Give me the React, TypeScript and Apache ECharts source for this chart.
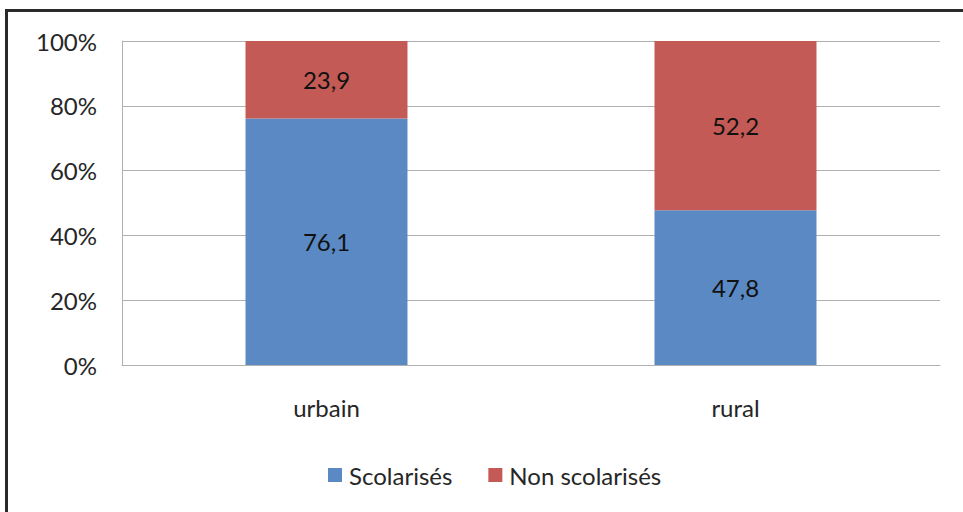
import React, { useEffect, useRef } from "react";
import * as echarts from "echarts";

const categories = ["urbain", "rural"];
const scolarises = [76.1, 47.8];
const nonScolarises = [23.9, 52.2];
const seriesNames = ["Scolarisés", "Non scolarisés"];

const FONT = "Lato";
const FS = 24;

export default function App() {
  const ref = useRef<HTMLDivElement>(null);
  useEffect(() => {
    const chart = echarts.init(ref.current!, null, { renderer: "svg" });
    const fmt = (p: any) => String(p.value).replace(".", ",");
    chart.setOption({
      animation: false,
      backgroundColor: "#ffffff",
      textStyle: { fontFamily: FONT },
      graphic: [
        {
          type: "rect",
          shape: { x: 6.5, y: 10.5, width: 1000, height: 600 },
          style: { fill: "none", stroke: "#2a2a2a", lineWidth: 3 },
          silent: true,
        },
      ],
      grid: { left: 122, top: 41, right: 23, bottom: 147 },
      legend: {
        data: seriesNames,
        bottom: 20,
        left: 323,
        padding: 5,
        icon: "rect",
        itemWidth: 14,
        itemHeight: 14,
        itemGap: 36,
        textStyle: { fontFamily: FONT, fontSize: FS, color: "#262626", padding: [0, 0, 0, 2] },
      },
      xAxis: {
        type: "category",
        data: categories,
        axisLine: { lineStyle: { color: "#b0b0b0", width: 1 } },
        axisTick: { show: false },
        axisLabel: { fontFamily: FONT, fontSize: FS, color: "#262626", margin: 30 },
      },
      yAxis: {
        type: "value",
        min: 0,
        max: 100,
        interval: 20,
        axisLine: { show: true, lineStyle: { color: "#b0b0b0", width: 1 } },
        axisTick: { show: false },
        splitLine: { lineStyle: { color: "#b0b0b0", width: 1 } },
        axisLabel: {
          fontFamily: FONT,
          fontSize: FS,
          color: "#262626",
          margin: 25,
          formatter: (v: number) => v + "%",
        },
      },
      series: [
        {
          name: seriesNames[0],
          type: "bar",
          stack: "total",
          data: scolarises,
          barWidth: "39.6%",
          itemStyle: { color: "#5A89C4" },
          label: { show: true, position: "inside", formatter: fmt, fontFamily: FONT, fontSize: FS, color: "#111" },
        },
        {
          name: seriesNames[1],
          type: "bar",
          stack: "total",
          data: nonScolarises,
          barWidth: "39.6%",
          itemStyle: { color: "#C45A55" },
          label: { show: true, position: "inside", formatter: fmt, fontFamily: FONT, fontSize: FS, color: "#111" },
        },
      ],
    });
    return () => chart.dispose();
  }, []);
  return (
    <div
      ref={ref}
      style={{ position: "absolute", left: 0, top: 0, width: 963, height: 512 }}
    />
  );
}
